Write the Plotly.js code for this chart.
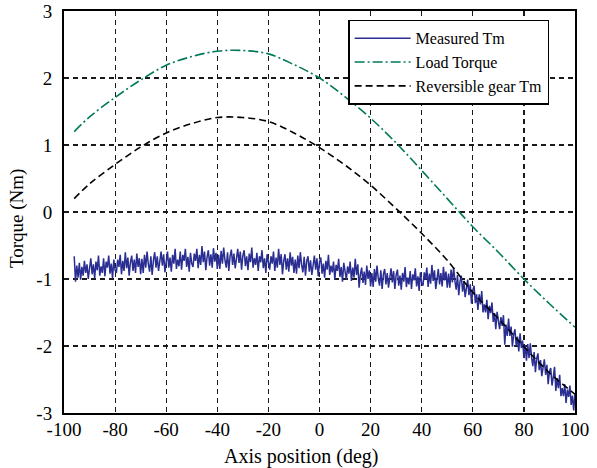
<!DOCTYPE html>
<html>
<head>
<meta charset="utf-8">
<script src="https://cdn.plot.ly/plotly-3.0.1.min.js"></script>
<style>html,body{margin:0;padding:0;background:#fff}#chart{width:597px;height:468px}</style>
</head>
<body>
<div id="chart"></div>
<script>
// Smooth reference curves (Axis position in deg, torque in Nm)
const curveX = [-96, -90, -80, -70, -60, -50, -40, -30, -20, -10, 0, 10, 20, 30, 40, 50, 60, 70, 80, 90, 100];
const loadTorque = [1.20, 1.42, 1.71, 1.97, 2.19, 2.32, 2.40, 2.41, 2.36, 2.20, 2.00, 1.72, 1.40, 1.03, 0.62, 0.20, -0.22, -0.60, -1.00, -1.37, -1.72];
const reversibleTm = [0.20, 0.42, 0.71, 0.97, 1.18, 1.32, 1.41, 1.41, 1.35, 1.18, 0.96, 0.70, 0.40, 0.05, -0.32, -0.72, -1.20, -1.59, -2.01, -2.40, -2.72];

// Measured Tm, sampled every 0.5 deg from -96 to 100
const measuredStart = -96;
const measuredStep = 0.5;
const measuredTm = [
  -0.66, -1.04, -0.80, -0.98, -0.76, -1.01, -0.82, -0.95, -0.73, -0.91, -0.78, -1.00, -0.84,
  -0.69, -0.93, -0.78, -0.99, -0.74, -0.87, -0.65, -0.95, -0.81, -0.91, -0.69, -0.96, -0.74, -0.83, -0.65, -0.92, -0.77, -0.99, -0.71, -0.87,
  -0.91, -0.71, -0.82, -0.64, -0.93, -0.73, -0.88, -0.60, -0.84, -0.68, -0.95, -0.75, -0.65, -0.88, -0.71, -0.91, -0.62, -0.82, -0.69, -0.93,
  -0.70, -0.91, -0.64, -0.83, -0.59, -0.78, -0.89, -0.66, -0.94, -0.72, -0.60, -0.83, -0.66, -0.88, -0.72, -0.59, -0.80, -0.63, -0.90, -0.69,
  -0.59, -0.83, -0.68, -0.89, -0.64, -0.77, -0.55, -0.85, -0.71, -0.81, -0.59, -0.86, -0.64, -0.73, -0.55, -0.82, -0.67, -0.89, -0.61, -0.77,
  -0.82, -0.62, -0.73, -0.55, -0.84, -0.64, -0.79, -0.51, -0.75, -0.59, -0.87, -0.67, -0.57, -0.80, -0.63, -0.83, -0.54, -0.74, -0.61, -0.85,
  -0.64, -0.85, -0.58, -0.77, -0.53, -0.72, -0.83, -0.60, -0.88, -0.66, -0.56, -0.79, -0.62, -0.84, -0.68, -0.55, -0.76, -0.59, -0.86, -0.65,
  -0.57, -0.81, -0.66, -0.87, -0.62, -0.75, -0.53, -0.83, -0.69, -0.79, -0.61, -0.88, -0.66, -0.75, -0.57, -0.84, -0.69, -0.91, -0.63, -0.79,
  -0.86, -0.66, -0.77, -0.59, -0.88, -0.68, -0.83, -0.55, -0.79, -0.63, -0.93, -0.73, -0.63, -0.86, -0.69, -0.89, -0.60, -0.80, -0.67, -0.91,
  -0.71, -0.92, -0.65, -0.84, -0.60, -0.79, -0.90, -0.67, -0.95, -0.73, -0.66, -0.89, -0.72, -0.94, -0.78, -0.65, -0.86, -0.69, -0.96, -0.75,
  -0.68, -0.92, -0.77, -0.98, -0.73, -0.86, -0.64, -0.94, -0.80, -0.90, -0.74, -1.01, -0.79, -0.88, -0.70, -0.97, -0.82, -1.04, -0.76, -0.92,
  -1.01, -0.81, -0.92, -0.74, -1.03, -0.83, -0.98, -0.70, -0.94, -0.78, -1.13, -0.93, -0.83, -1.06, -0.89, -1.09, -0.80, -1.00, -0.87, -1.11,
  -0.91, -1.12, -0.85, -1.04, -0.80, -0.99, -1.10, -0.87, -1.15, -0.93, -0.85, -1.08, -0.91, -1.13, -0.97, -0.84, -1.05, -0.88, -1.15, -0.94,
  -0.86, -1.10, -0.95, -1.16, -0.91, -1.04, -0.82, -1.12, -0.98, -1.08, -0.88, -1.15, -0.93, -1.02, -0.84, -1.11, -0.96, -1.18, -0.90, -1.06,
  -1.10, -0.90, -1.01, -0.83, -1.12, -0.92, -1.07, -0.79, -1.03, -0.87, -1.15, -0.95, -0.85, -1.08, -0.91, -1.11, -0.82, -1.02, -0.89, -1.13,
  -0.92, -1.13, -0.86, -1.05, -0.83, -1.03, -1.16, -0.94, -1.24, -1.03, -0.95, -1.19, -1.04, -1.27, -1.13, -1.01, -1.24, -1.08, -1.37, -1.17,
  -1.10, -1.36, -1.23, -1.46, -1.23, -1.38, -1.18, -1.50, -1.38, -1.50, -1.31, -1.60, -1.40, -1.51, -1.35, -1.64, -1.51, -1.75, -1.49, -1.67,
  -1.75, -1.57, -1.70, -1.54, -1.98, -1.68, -1.85, -1.59, -1.85, -1.71, -2.01, -1.83, -1.75, -2.00, -1.86, -2.08, -1.81, -2.03, -1.92, -2.18,
  -1.99, -2.22, -1.97, -2.18, -1.96, -2.17, -2.30, -2.09, -2.39, -2.19, -2.11, -2.36, -2.21, -2.45, -2.31, -2.20, -2.43, -2.28, -2.57, -2.38,
  -2.33, -2.59, -2.46, -2.31, -2.67, -2.48, -2.63, -2.43, -2.75, -2.63, -2.75, -2.57, -2.85, -2.65, -2.76, -2.59, -2.88, -2.74, -2.96, -2.71
];
const measuredX = measuredTm.map((_, i) => measuredStart + i * measuredStep);

const xTicks = [-100, -80, -60, -40, -20, 0, 20, 40, 60, 80, 100];
const yTicks = [-3, -2, -1, 0, 1, 2, 3];

const FONT = 'Liberation Serif';

const traces = [
  {x: measuredX, y: measuredTm, name: 'Measured Tm', type: 'scatter', mode: 'lines',
   line: {color: '#2a2e92', width: 1.5}},
  {x: curveX, y: loadTorque, name: 'Load Torque', type: 'scatter', mode: 'lines',
   line: {color: '#00795a', width: 1.6, shape: 'spline', dash: '10px,3px,2px,3px'}},
  {x: curveX, y: reversibleTm, name: 'Reversible gear Tm', type: 'scatter', mode: 'lines',
   line: {color: '#000000', width: 1.6, shape: 'spline', dash: '7px,4px'}}
];

const axisCommon = {
  showline: true, linecolor: '#000', linewidth: 2, mirror: true,
  showgrid: true, gridcolor: '#1a1a1a', gridwidth: 1.2, griddash: '5px,4px',
  zeroline: false, ticks: '', tickfont: {family: FONT, size: 19, color: '#000'}
};

const layout = {
  width: 597, height: 468,
  margin: {l: 64, r: 22, t: 11, b: 55},
  paper_bgcolor: '#fff', plot_bgcolor: '#fff',
  font: {family: FONT, color: '#000'},
  showlegend: true,
  legend: {
    x: 0.556, y: 0.978, xanchor: 'left', yanchor: 'top',
    bgcolor: '#fff', bordercolor: '#000', borderwidth: 1.5,
    itemwidth: 56,
    entrywidth: 205, entrywidthmode: 'pixels',
    font: {family: FONT, size: 16, color: '#000'}
  },
  xaxis: Object.assign({}, axisCommon, {
    range: [-100, 100], tickvals: xTicks, ticktext: xTicks.map(String),
    ticklabelstandoff: -2
  }),
  yaxis: Object.assign({}, axisCommon, {
    range: [-3, 3], tickvals: yTicks, ticktext: yTicks.map(String),
    ticklabelstandoff: 6
  }),
  annotations: [
    {text: 'Axis position (deg)', xref: 'paper', yref: 'paper', x: 0.464, y: -0.107,
     xanchor: 'center', yanchor: 'middle', showarrow: false,
     font: {family: FONT, size: 20, color: '#000'}},
    {text: 'Torque (Nm)', xref: 'paper', yref: 'paper', x: -0.092, y: 0.485, textangle: -90,
     xanchor: 'center', yanchor: 'middle', showarrow: false,
     font: {family: FONT, size: 19, color: '#000'}}
  ]
};

Plotly.newPlot('chart', traces, layout, {displayModeBar: false, staticPlot: true});
</script>
</body>
</html>
